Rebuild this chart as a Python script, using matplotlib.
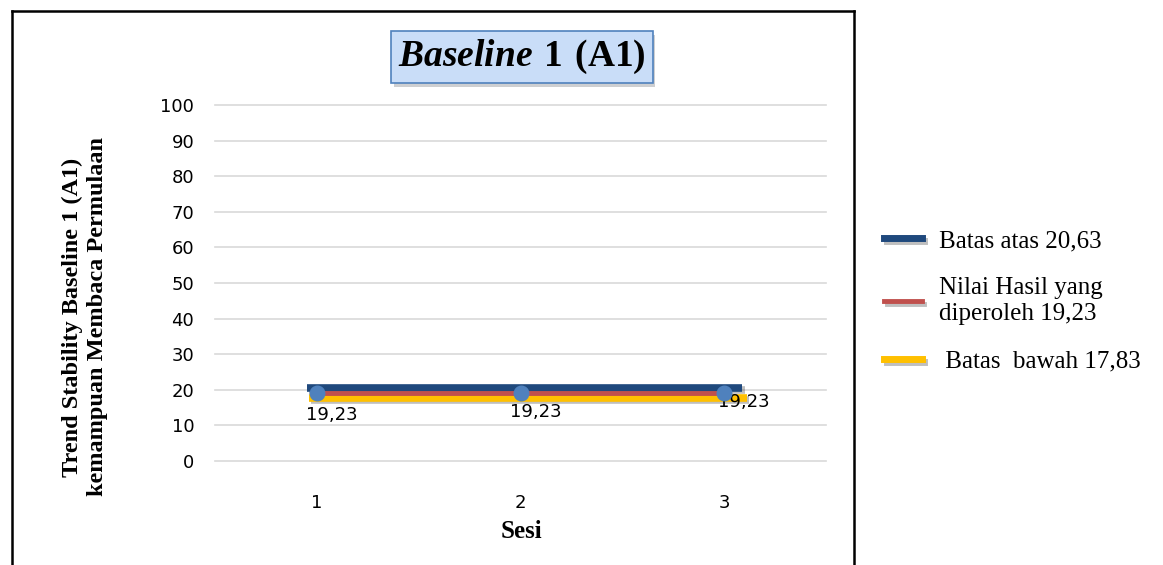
import matplotlib.pyplot as plt
import matplotlib.patheffects as pe
from matplotlib.lines import Line2D

plt.rcParams['mathtext.fontset'] = 'custom'
plt.rcParams['mathtext.rm'] = 'Liberation Serif'
plt.rcParams['mathtext.bf'] = 'Liberation Serif:bold'
plt.rcParams['mathtext.bfit'] = 'Liberation Serif:bold:italic'

# Data sesi baseline A1
sesi = [1, 2, 3]
nilai = [19.23, 19.23, 19.23]
batas_atas = 20.63
batas_bawah = 17.83
label_nilai = ['19,23', '19,23', '19,23']
y_ticks = list(range(0, 101, 10))

biru = '#1f497d'
merah = '#c0504d'
kuning = '#ffc000'
titik = '#4f81bd'

bayangan = [pe.SimpleLineShadow(offset=(1.5, -2), alpha=0.25), pe.Normal()]

fig = plt.figure(figsize=(11.63, 5.65), dpi=100)
ax = fig.add_axes([215 / 1163, 1 - 461 / 565, 611 / 1163, 356 / 565])

# garis batas atas, nilai dan batas bawah
x0, x1 = sesi[0] - 0.05, sesi[-1] + 0.09
ax.plot([x0, x1], [batas_atas, batas_atas], color=biru, lw=5.5,
        solid_capstyle='butt', zorder=3, path_effects=bayangan)
ax.plot([x0 + 0.01, x1 + 0.02], [batas_bawah, batas_bawah], color=kuning, lw=5.5,
        solid_capstyle='butt', zorder=4, path_effects=bayangan)
ax.plot(sesi, nilai, color=merah, lw=3.5, solid_capstyle='butt', zorder=5)
ax.scatter(sesi, nilai, s=110, color=titik, zorder=6)

offsets = [(11, -16), (11, -14), (14, -6.5)]
for x, y, t, off in zip(sesi, nilai, label_nilai, offsets):
    ax.annotate(t, (x, y), xytext=off, textcoords='offset points',
                ha='center', va='center', fontsize=13, family='DejaVu Sans',
                zorder=4.5)

ax.set_xlim(0.5, 3.5)
ax.set_ylim(0, 100)
ax.set_yticks(y_ticks)
ax.set_xticks(sesi)
ax.grid(axis='y', color='#d9d9d9', lw=1.2)
for g in ax.get_ygridlines():
    g.set_clip_on(False)
ax.set_axisbelow(True)
for s in ax.spines.values():
    s.set_visible(False)
ax.tick_params(length=0, labelsize=13)
ax.tick_params(axis='y', pad=15)
ax.tick_params(axis='x', pad=24)

# judul dalam kotak
judul = fig.text(522 / 1163, 1 - 57 / 565, r'$\mathbfit{Baseline}$ $\mathbf{1\ (A1)}$',
                 ha='center', va='center', fontsize=27)
judul.set_bbox(dict(boxstyle='square,pad=0.18', facecolor='#c9ddf8',
                    edgecolor='#4f81bd', lw=1.2))
judul.get_bbox_patch().set_path_effects(
    [pe.SimplePatchShadow(offset=(2, -3), alpha=0.25), pe.Normal()])

fig.text(85 / 1163, 1 - 317 / 565,
         'Trend Stability Baseline 1 (A1)\nkemampuan Membaca Permulaan',
         rotation=90, ha='center', va='center', fontsize=17.5,
         family='Liberation Serif', weight='bold', linespacing=1.2)
fig.text(521 / 1163, 1 - 531 / 565, 'Sesi', ha='center', va='center',
         fontsize=18, family='Liberation Serif', weight='bold')

# legenda di luar area plot
handles = [
    Line2D([], [], color=biru, lw=5, path_effects=bayangan),
    Line2D([], [], color=merah, lw=3.5, path_effects=bayangan),
    Line2D([], [], color=kuning, lw=5, path_effects=bayangan),
]
labels = ['Batas atas 20,63', 'Nilai Hasil yang\ndiperoleh 19,23', ' Batas  bawah 17,83']
leg = fig.legend(handles, labels, loc='upper left',
                 bbox_to_anchor=(862 / 1163, 1 - 207 / 565),
                 frameon=False, prop={'family': 'Liberation Serif', 'size': 18},
                 handlelength=1.5, handletextpad=0.7, labelspacing=1.0)
for t in leg.get_texts():
    t.set_linespacing(1.25)

# bingkai grafik
bingkai = dict(color='black', lw=1.8, transform=fig.transFigure)
fig.add_artist(Line2D([12 / 1163, 12 / 1163], [0, 1 - 11 / 565], **bingkai))
fig.add_artist(Line2D([12 / 1163, 854 / 1163], [1 - 11 / 565, 1 - 11 / 565], **bingkai))
fig.add_artist(Line2D([854 / 1163, 854 / 1163], [0, 1 - 11 / 565], **bingkai))

fig.savefig('out.png', dpi=100)
